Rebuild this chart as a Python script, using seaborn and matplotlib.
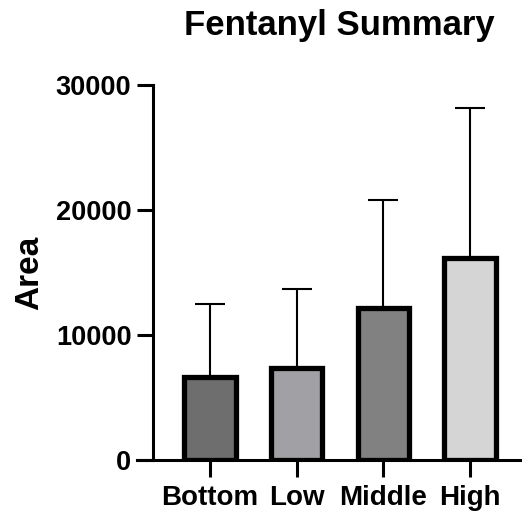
import matplotlib
matplotlib.use("Agg")
import matplotlib.pyplot as plt
import seaborn as sns
import pandas as pd
import numpy as np

# Fentanyl peak area by group: mean and standard deviation
groups = ["Bottom", "Low", "Middle", "High"]
mean_area = [6650, 7350, 12200, 16200]
sd_area = [5800, 6350, 8600, 11950]
bar_colors = ["#6e6e6e", "#a1a1a5", "#818181", "#d5d5d5"]
y_ticks = [0, 10000, 20000, 30000]

sns.set_style("ticks")
plt.rcParams["font.family"] = ["Liberation Sans", "DejaVu Sans"]
plt.rcParams["font.weight"] = "bold"
for key in ["text.color", "axes.labelcolor", "xtick.color", "ytick.color",
            "axes.edgecolor"]:
    plt.rcParams[key] = "black"

df = pd.DataFrame({"group": groups, "area": mean_area})

fig = plt.figure(figsize=(5.26, 5.17), dpi=100)
W, H = 526, 517
left_px, right_px, top_px, bottom_px = 137, 520, 85, 460
ax = fig.add_axes([left_px / W, 1 - bottom_px / H,
                   (right_px - left_px) / W, (bottom_px - top_px) / H])

sns.barplot(data=df, x="group", y="area", hue="group", palette=bar_colors,
            legend=False, errorbar=None, width=0.59, linewidth=3.8,
            edgecolor="black", ax=ax, zorder=3)

# upper-only SD error bars
ax.errorbar(np.arange(len(groups)), mean_area,
            yerr=[np.zeros(len(groups)), sd_area], fmt="none",
            ecolor="black", elinewidth=1.5, capsize=10.8, capthick=1.5,
            zorder=2)

ax.set_xlim(-0.842, 3.577)
ax.set_ylim(0, 30000)
ax.set_yticks(y_ticks)
ax.set_yticklabels([str(v) for v in y_ticks])

for s in ["top", "right"]:
    ax.spines[s].set_visible(False)
ax.spines["left"].set_position(("axes", (153 - left_px) / (right_px - left_px)))
ax.spines["left"].set_linewidth(2.2)
ax.spines["bottom"].set_linewidth(2.2)
ax.spines["left"].set_capstyle("projecting")
ax.spines["bottom"].set_capstyle("projecting")

ax.tick_params(axis="y", length=11.5, width=2.2, labelsize=19.5, pad=4)
ax.tick_params(axis="x", length=12, width=2.2, labelsize=20, pad=6)
for lbl in ax.get_xticklabels() + ax.get_yticklabels():
    lbl.set_fontweight("bold")

ax.set_xlabel("")
ax.set_ylabel("Area", fontsize=24, fontweight="bold", labelpad=8)
ax.set_title("Fentanyl Summary", fontsize=25, fontweight="bold", pad=36,
             x=(339 - left_px) / (right_px - left_px))

fig.savefig("out.png", dpi=100)
